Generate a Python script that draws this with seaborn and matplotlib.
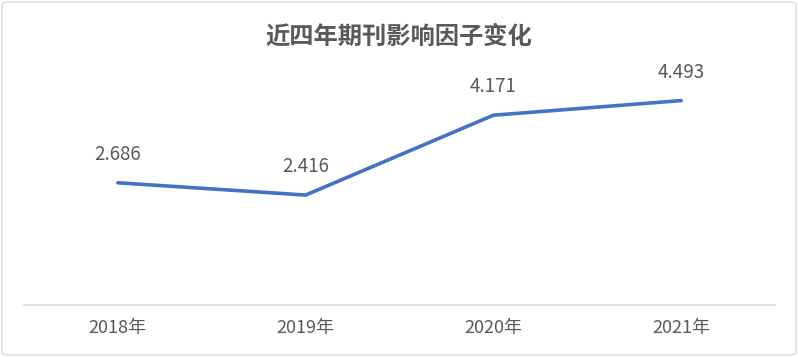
import matplotlib
matplotlib.use("Agg")
import matplotlib.pyplot as plt
import seaborn as sns
import pandas as pd
from matplotlib.patches import FancyBboxPatch

years = ["2018年", "2019年", "2020年", "2021年"]
values = [2.686, 2.416, 4.171, 4.493]
title = "近四年期刊影响因子变化"

sns.set_theme(style="white")
plt.rcParams['font.family'] = ['Noto Sans CJK SC', 'DejaVu Sans']

df = pd.DataFrame({"year": years, "value": values})
fig = plt.figure(figsize=(7.98, 3.57), dpi=100)
ax = fig.add_axes([24/798, 1 - 305/357, (775-24)/798, (305-32)/357])

sns.lineplot(data=df, x="year", y="value", ax=ax, color="#4472C4", linewidth=2.6, sort=False)
ax.set_xlim(-0.5, 3.5)
ax.set_ylim(0, 6)
ax.set_yticks([])
ax.set_xlabel("")
ax.set_ylabel("")
for s in ["top", "left", "right"]:
    ax.spines[s].set_visible(False)
ax.spines["bottom"].set_color("#D9D9D9")
ax.spines["bottom"].set_linewidth(1.2)
ax.tick_params(axis="x", length=0, pad=10, labelsize=13, labelcolor="#595959")

for i, v in enumerate(values):
    ax.annotate(f"{v:.3f}", (i, v), xytext=(0, 13), textcoords="offset points",
                ha="center", va="bottom", fontsize=13.5, color="#595959")

fig.text(0.5, 1 - 37/357, title, ha="center", va="center", fontsize=17.5,
         fontweight="bold", color="#595959")

border = FancyBboxPatch((2/798, 2/357), 1 - 4/798, 1 - 4/357,
                        boxstyle="round,pad=0,rounding_size=0.008",
                        transform=fig.transFigure, fill=False,
                        edgecolor="#D9D9D9", linewidth=1.0)
fig.patches.append(border)

fig.savefig("out.png", dpi=100)
